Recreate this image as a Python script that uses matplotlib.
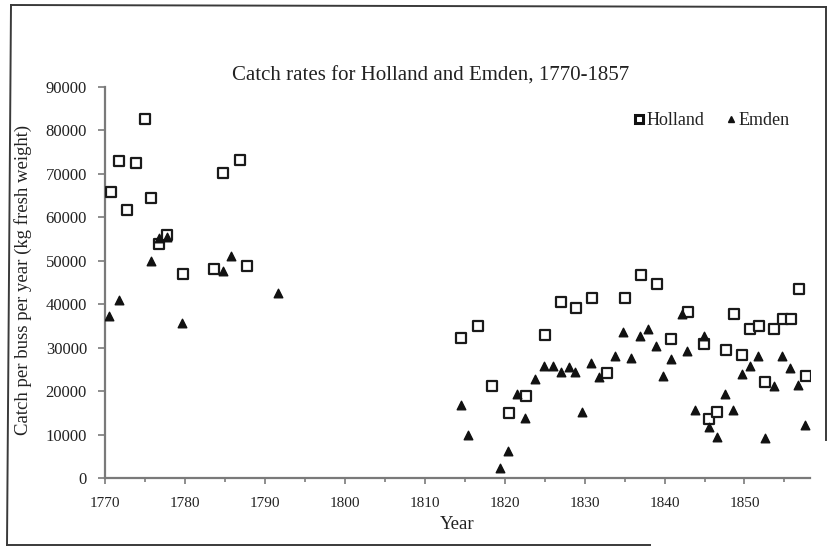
import matplotlib
matplotlib.use("Agg")
from matplotlib import pyplot as plt
from matplotlib.lines import Line2D
from matplotlib.ticker import MultipleLocator

# Holland catch per buss
holland_years = [1770.8, 1771.8, 1772.8, 1773.9, 1775.0, 1775.8, 1776.75, 1777.8, 1779.7,
                 1783.6, 1784.8, 1786.9, 1787.75,
                 1814.5, 1816.6, 1818.4, 1820.5, 1822.7, 1825.0, 1827.1, 1828.9, 1830.9,
                 1832.8, 1835.0, 1837.0, 1839.0, 1840.8, 1842.9, 1844.9, 1845.5, 1846.6,
                 1847.7, 1848.75, 1849.7, 1850.75, 1851.8, 1852.6, 1853.75, 1854.8, 1855.8,
                 1856.8, 1857.7]
holland_catch = [65800, 72900, 61800, 72400, 82600, 64400, 53900, 56000, 47000,
                 48100, 70200, 73100, 48800,
                 32300, 35100, 21100, 15000, 18800, 33000, 40500, 39100, 41500,
                 24100, 41500, 46800, 44600, 32100, 38200, 30900, 13600, 15100,
                 29500, 37700, 28400, 34400, 34900, 22200, 34300, 36500, 36500,
                 43400, 23500]

# Emden catch per buss
emden_years = [1770.5, 1771.7, 1775.7, 1776.8, 1777.8, 1779.6, 1784.7, 1785.75, 1791.7,
               1814.5, 1815.4, 1819.4, 1820.4, 1821.5, 1822.6, 1823.8, 1824.9, 1826.0,
               1827.0, 1828.0, 1828.8, 1829.7, 1830.8, 1831.8, 1833.8, 1834.8, 1835.8,
               1836.9, 1837.9, 1838.9, 1839.8, 1840.8, 1842.2, 1842.8, 1843.75, 1844.9,
               1845.5, 1846.5, 1847.6, 1848.6, 1849.7, 1850.7, 1851.75, 1852.6, 1853.7,
               1854.7, 1855.7, 1856.7, 1857.6]
emden_catch = [37300, 40900, 49900, 55200, 55400, 35700, 47700, 51200, 42500,
               16700, 10000, 2300, 6200, 19400, 13900, 22800, 25800, 25800,
               24400, 25500, 24400, 15300, 26400, 23300, 28000, 33600, 27600,
               32600, 34300, 30300, 23500, 27400, 37800, 29200, 15700, 32800,
               11800, 9500, 19300, 15700, 23900, 25800, 28200, 9300, 21200,
               28000, 25400, 21500, 12200]

year_ticks = list(range(1770, 1851, 10))
catch_ticks = list(range(0, 90001, 10000))

plt.rcParams['font.family'] = ['Liberation Serif', 'DejaVu Serif']
text_col = '#222222'
axis_col = '#7a7a7a'
frame_col = '#3a3a3a'

fig = plt.figure(figsize=(8.32, 5.48), dpi=100)
fig.patch.set_facecolor('white')
ax = fig.add_axes([0.1262, 0.1277, 0.8474, 0.7135])

ax.scatter(holland_years, holland_catch, marker='s', s=52, facecolors='white',
           edgecolors='#1a1a1a', linewidths=1.6, zorder=3)
ax.scatter(emden_years, emden_catch, marker='^', s=38, color='#111111', zorder=4)

ax.set_xlim(1770, 1858.2)
ax.set_ylim(0, 90000)
ax.set_xticks(year_ticks)
ax.set_xticklabels([str(y) for y in year_ticks])
ax.xaxis.set_minor_locator(MultipleLocator(5))
ax.set_yticks(catch_ticks)
ax.set_yticklabels([str(c) for c in catch_ticks])

for side in ('top', 'right'):
    ax.spines[side].set_visible(False)
for side in ('left', 'bottom'):
    ax.spines[side].set_color(axis_col)
    ax.spines[side].set_linewidth(1.6)
ax.tick_params(axis='both', which='both', color=axis_col, width=1.2, labelcolor=text_col)
ax.tick_params(axis='y', length=5, pad=8, labelsize=12)
ax.tick_params(axis='x', which='major', length=4, pad=10, labelsize=11)
ax.tick_params(axis='x', which='minor', length=3)

ax.set_xlabel('Year', fontsize=13.5, color=text_col, labelpad=4)
fig.text(0.028, 0.49, 'Catch per buss per year (kg fresh weight)', rotation=90,
         ha='center', va='center', fontsize=13.5, color=text_col)
fig.text(0.518, 0.862, 'Catch rates for Holland and Emden, 1770-1857',
         ha='center', va='center', fontsize=15, color=text_col)

# small legend markers sitting next to the text, as in the original
handles = [Line2D([], [], linestyle='none', marker='s', markersize=5.5,
                  markerfacecolor='white', markeredgecolor='#111111', markeredgewidth=2.2),
           Line2D([], [], linestyle='none', marker='^', markersize=5,
                  color='#111111')]
leg = ax.legend(handles, ['Holland', 'Emden'], loc='upper right',
                bbox_to_anchor=(0.981, 0.955), ncol=2, frameon=False, fontsize=13,
                handletextpad=-0.1, handlelength=1.0, columnspacing=1.0,
                borderaxespad=0, labelcolor=text_col)

# scanned page frame around the chart
frame = [((11, 5), (7, 545)), ((11, 5), (826, 7)), ((826, 7), (826, 440)),
         ((7, 545), (650, 545))]
for (x0, y0), (x1, y1) in frame:
    fig.add_artist(Line2D([x0 / 832, x1 / 832], [1 - y0 / 548, 1 - y1 / 548],
                          transform=fig.transFigure, color=frame_col, linewidth=1.4))

fig.savefig('out.png', dpi=100, facecolor='white')
